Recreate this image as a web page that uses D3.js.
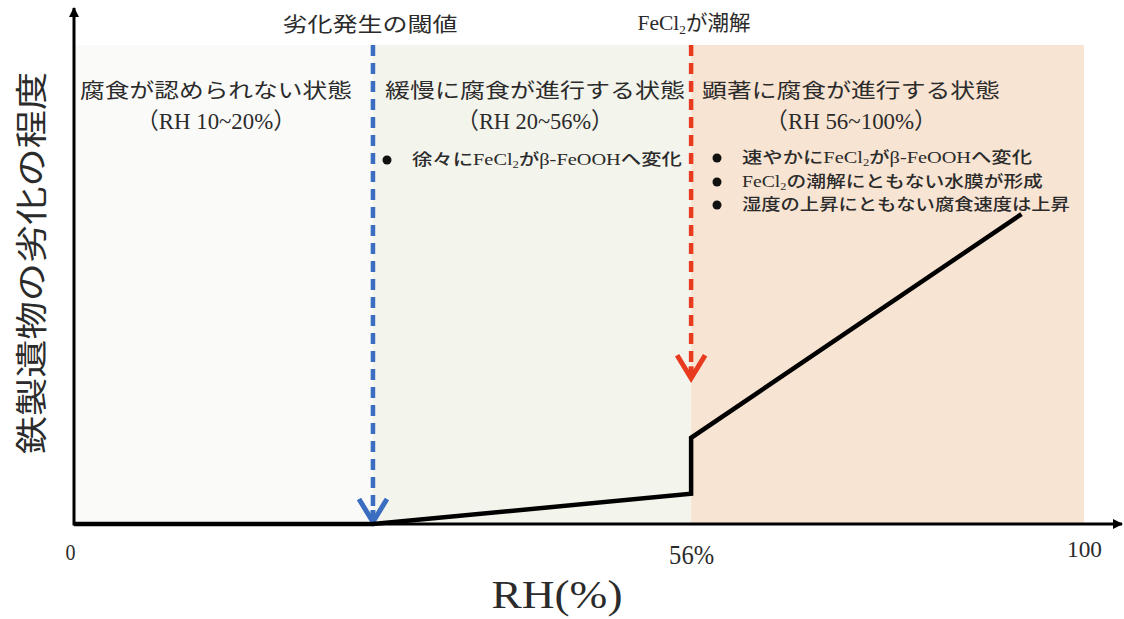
<!DOCTYPE html>
<html>
<head>
<meta charset="utf-8">
<script src="https://cdn.jsdelivr.net/npm/d3@7"></script>
<style>
  body { margin: 0; background: #fff; }
  svg { display: block; }
</style>
</head>
<body>
<div id="chart"></div>
<script>
// zones of relative humidity
const zoneStart = [0, 20, 56];
const zoneEnd = [20, 56, 100];
const zoneColors = ["#fafaf9", "#f3f4ec", "#f8e4d2"];
const zoneTitles = ["腐食が認められない状態", "緩慢に腐食が進行する状態", "顕著に腐食が進行する状態"];
const zoneRanges = ["（RH 10~20%）", "（RH 20~56%）", "（RH 56~100%）"];
const zoneNotes = [
  [],
  ["徐々にFeCl_2がβ-FeOOHへ変化"],
  ["速やかにFeCl_2がβ-FeOOHへ変化", "FeCl_2の潮解にともない水膜が形成", "湿度の上昇にともない腐食速度は上昇"]
];

// degradation curve (schematic, 0..1)
const curveRH = [0, 20, 56, 56, 93];
const curveLevel = [0, 0, 0.063, 0.18, 0.647];

// threshold arrows
const thresholdRH = [20, 56];
const thresholdTip = [0, 0.30];
const thresholdColors = ["#3b6dc1", "#e83a1e"];
const thresholdLabels = ["劣化発生の閾値", "FeCl_2が潮解"];

const tickValues = [0, 56, 100];
const tickLabels = ["0", "56%", "100"];

const W = 1124, H = 619;
const margin = {top: 45, right: 40, bottom: 95, left: 74};
const plotW = W - margin.left - margin.right;
const ink = "#2b2b2b";
const mixFont = "'Liberation Serif', 'Noto Sans CJK JP', serif";
const jpFont = "'Noto Sans CJK JP', sans-serif";

const svg = d3.select("#chart").append("svg")
  .attr("width", W)
  .attr("height", H);

// schematic axis: breakpoints placed by hand, piecewise linear
const x = d3.scaleLinear()
  .domain([0, 20, 56, 100])
  .range([0, 0.296, 0.611, 1].map(f => margin.left + f * plotW));
const y = d3.scaleLinear()
  .domain([0, 1])
  .range([H - margin.bottom, margin.top]);

// write a text with FeCl_2 style subscripts, stretched to a given width
function label(parent, str, o) {
  const size = o.size;
  const t = parent.append("text")
    .attr("font-size", size)
    .attr("text-anchor", o.anchor || "middle")
    .attr("dominant-baseline", "central")
    .attr("fill", o.color || ink)
    .style("font-family", o.family || mixFont);
  if (o.weight) t.attr("font-weight", o.weight);
  let shifted = false;
  str.split(/(_\d)/).forEach(s => {
    if (!s) return;
    if (s[0] === "_") {
      t.append("tspan").text(s.slice(1))
        .attr("font-size", size * 0.62)
        .attr("dy", size * 0.28);
      shifted = true;
    } else {
      const sp = t.append("tspan").text(s);
      if (shifted) { sp.attr("dy", -size * 0.28); shifted = false; }
    }
  });
  const w = t.node().getBBox().width;
  const sx = o.width ? o.width / w : 1;
  t.attr("transform", `translate(${o.x},${o.y}) rotate(${o.rotate || 0}) scale(${sx},1)`);
  return t;
}

// background zones
svg.append("g").selectAll("rect")
  .data(zoneStart)
  .join("rect")
    .attr("x", (d, i) => x(d))
    .attr("y", y(1))
    .attr("width", (d, i) => x(zoneEnd[i]) - x(d))
    .attr("height", y(0) - y(1))
    .attr("fill", (d, i) => zoneColors[i]);

// zone texts
const titleWidths = [272, 300, 298];
const rangeWidths = [160, 157, 172];
const zt = svg.append("g");
zoneStart.forEach((d, i) => {
  const cx = [216, 535, 851][i];
  label(zt, zoneTitles[i], {x: cx, y: 89, size: 20, width: titleWidths[i], family: jpFont});
  label(zt, zoneRanges[i], {x: cx, y: 121, size: 23, width: rangeWidths[i]});
});
const noteX = [0, 412, 742];
const noteY = [[], [160], [158, 182, 205]];
const noteWidths = [[], [270], [290, 301, 328]];
zoneNotes.forEach((notes, i) => {
  notes.forEach((n, j) => {
    zt.append("circle")
      .attr("cx", noteX[i] - 25)
      .attr("cy", noteY[i][j])
      .attr("r", 4.5)
      .attr("fill", "#111");
    label(zt, n, {x: noteX[i], y: noteY[i][j], size: 16, anchor: "start", width: noteWidths[i][j], weight: 500});
  });
});

// axes with arrows
const defs = svg.append("defs");
defs.append("marker")
  .attr("id", "axhead")
  .attr("viewBox", "0 0 10 10")
  .attr("refX", 9).attr("refY", 5)
  .attr("markerUnits", "userSpaceOnUse")
  .attr("markerWidth", 11).attr("markerHeight", 10)
  .attr("orient", "auto")
  .append("path")
    .attr("d", "M0,0L10,5L0,10z")
    .attr("fill", "#000");

svg.append("line")
  .attr("x1", x(0)).attr("y1", y(0))
  .attr("x2", W - 2).attr("y2", y(0))
  .attr("stroke", "#000").attr("stroke-width", 3)
  .attr("marker-end", "url(#axhead)");
svg.append("line")
  .attr("x1", x(0)).attr("y1", y(0) + 1.5)
  .attr("x2", x(0)).attr("y2", 8)
  .attr("stroke", "#000").attr("stroke-width", 3)
  .attr("marker-end", "url(#axhead)");

const xAxis = svg.append("g")
  .attr("transform", `translate(0,${y(0)})`)
  .call(d3.axisBottom(x)
    .tickValues(tickValues)
    .tickFormat((d, i) => tickLabels[i])
    .tickSize(0)
    .tickPadding(0));
xAxis.select(".domain").remove();
xAxis.selectAll(".tick text").each(function(d, i) {
  const sizes = [23, 27, 23];
  const widths = [10, 45, 35];
  const dx = [-4, 0, 0];
  const yy = [29, 31, 25];
  const t = d3.select(this)
    .attr("y", null).attr("dy", null)
    .attr("fill", ink)
    .attr("font-size", sizes[i])
    .attr("dominant-baseline", "central")
    .style("font-family", mixFont);
  const w = this.getBBox().width;
  t.attr("transform", `translate(${dx[i]},${yy[i]}) scale(${widths[i] / w},1)`);
});

// axis titles
label(svg, "RH(%)", {x: 557, y: 594, size: 41, width: 131});
label(svg, "鉄製遺物の劣化の程度", {x: 28, y: 263, size: 32, width: 383, rotate: -90, family: jpFont});

// threshold arrows
const th = svg.append("g");
thresholdRH.forEach((d, i) => {
  const cx = x(d), tip = y(thresholdTip[i]);
  th.append("line")
    .attr("x1", cx).attr("y1", y(1))
    .attr("x2", cx).attr("y2", tip - 4)
    .attr("stroke", thresholdColors[i])
    .attr("stroke-width", 4.5)
    .attr("stroke-dasharray", "11,7");
  th.append("path")
    .attr("d", `M${cx - 14},${tip - 25}L${cx},${tip - 2}L${cx + 14},${tip - 25}`)
    .attr("fill", "none")
    .attr("stroke", thresholdColors[i])
    .attr("stroke-width", 5);
  th.append("line")
    .attr("x1", cx).attr("y1", tip - 14)
    .attr("x2", cx).attr("y2", tip - 3)
    .attr("stroke", thresholdColors[i])
    .attr("stroke-width", 5);
});
label(svg, thresholdLabels[0], {x: 370, y: 23, size: 20, width: 175, family: jpFont});
label(svg, thresholdLabels[1], {x: 694, y: 23, size: 21, width: 113});

// degradation curve
const curve = d3.line()
  .x(d => x(d[0]))
  .y(d => y(d[1]));
svg.append("path")
  .datum(d3.zip(curveRH, curveLevel))
  .attr("d", curve)
  .attr("fill", "none")
  .attr("stroke", "#000")
  .attr("stroke-width", 4.5)
  .attr("stroke-linejoin", "miter");
</script>
</body>
</html>
